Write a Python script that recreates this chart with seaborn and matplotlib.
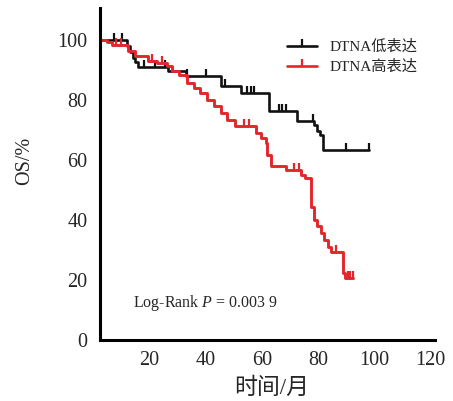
import numpy as np
import pandas as pd
import seaborn as sns
import matplotlib.pyplot as plt
from matplotlib.lines import Line2D

sns.set_style('white')
plt.rcParams['font.family'] = ['Liberation Serif', 'Noto Sans CJK SC']
plt.rcParams['mathtext.fontset'] = 'custom'
plt.rcParams['mathtext.it'] = 'Liberation Serif:italic'
plt.rcParams['mathtext.rm'] = 'Liberation Serif'

# KM steps (months, OS %)
low_t = [0, 12, 13, 14, 15, 16, 26.5, 33, 45.5, 52.4, 62.5, 72.5, 78.5, 79.6, 80.6, 81.8, 98.3]
low_s = [100, 98, 96, 94, 92.5, 91, 89.5, 88, 84.5, 82.2, 76.2, 73, 71.7, 69.5, 68.3, 63.3, 63.3]
low_cens_t = [7.4, 10.2, 18, 22, 25.5, 33.3, 40, 47, 54.8, 56, 57.2, 66.1, 67.3, 68.5, 78.3, 90, 98.3]
low_cens_s = [100, 100, 91, 91, 91, 88, 88, 84.5, 82.2, 82.2, 82.2, 76.2, 76.2, 76.2, 73, 63.3, 63.3]

high_t = [0, 5, 6.5, 12.5, 14.9, 19.6, 22.6, 26.2, 28, 30.4, 33.3, 35.7, 38.1, 40.5, 42.9,
          45.3, 47.7, 50.5, 57.8, 59.6, 61.4, 62, 63.1, 68.5, 73.9, 75.5, 77.4, 78.6, 79.8,
          81, 82.2, 83.4, 84.6, 88.8, 89.5, 92.4]
high_s = [100, 99.2, 98.3, 96.1, 94.4, 92.8, 92.2, 91.1, 89.4, 88.3, 85.6, 83.9, 82.2, 80, 77.8,
          75.6, 73.3, 71.1, 68.9, 67.2, 65.6, 61.7, 57.8, 56.7, 55, 54, 44.4, 40, 37.8,
          35.6, 33.3, 31.1, 29.4, 22.2, 20.6, 20.6]
high_cens_t = [8, 10, 21, 24.5, 53.5, 55.5, 71.5, 73.3, 86.4, 90.5, 91.5, 92.4]
high_cens_s = [98.3, 98.3, 92.8, 92.2, 71.1, 71.1, 56.7, 56.7, 29.4, 20.6, 20.6, 20.6]

labels = ['DTNA低表达', 'DTNA高表达']
colors = ['#111111', '#e3262b']

fig = plt.figure(figsize=(4.53, 4.01), dpi=100)
ax = fig.add_axes([0.221, 0.152, 0.739, 0.828])

curves = [(low_t, low_s, low_cens_t, low_cens_s), (high_t, high_s, high_cens_t, high_cens_s)]
for (t, s, ct, cs), c, w in zip(curves, colors, [1.9, 2.1]):
    df = pd.DataFrame({'t': t, 's': s})
    sns.lineplot(data=df, x='t', y='s', color=c, lw=w, drawstyle='steps-post',
                 estimator=None, sort=False, ax=ax)
    ax.plot(ct, cs, ls='none', marker=2, ms=5, mew=1.6, color=c)

ax.set_xlim(2.4, 121.6)
ax.set_ylim(0, 110.5)
ax.set_xticks([20, 40, 60, 80, 100, 120])
ax.set_yticks([0, 20, 40, 60, 80, 100])
ax.tick_params(axis='y', direction='in', length=10, width=2.2, labelsize=14.5, pad=9)
ax.tick_params(axis='x', direction='in', length=3.5, width=1.2, labelsize=14.5, pad=8)
for sp in ['top', 'right']:
    ax.spines[sp].set_visible(False)
for sp in ['left', 'bottom']:
    ax.spines[sp].set_linewidth(2.2)
    ax.spines[sp].set_color('black')

ax.set_xlabel('时间/月', fontsize=16.5)
ax.set_ylabel('OS/%', fontsize=14.5)
ax.xaxis.set_label_coords(0.513, -0.112)
ax.yaxis.set_label_coords(-0.197, 0.539)

ax.text(14.2, 12.3, 'Log-Rank $P$ = 0.003 9', fontsize=11.5, va='center', ha='left')

handles = [Line2D([0], [0], color=c, lw=1.9, marker=2, ms=5, mew=1.6) for c in colors]
ax.legend(handles, labels, loc='upper left', bbox_to_anchor=(0.558, 0.904), frameon=False,
          fontsize=11, handlelength=2.0, handletextpad=0.8, labelspacing=0.37,
          borderpad=0, borderaxespad=0)

fig.savefig('out.png', dpi=100)
